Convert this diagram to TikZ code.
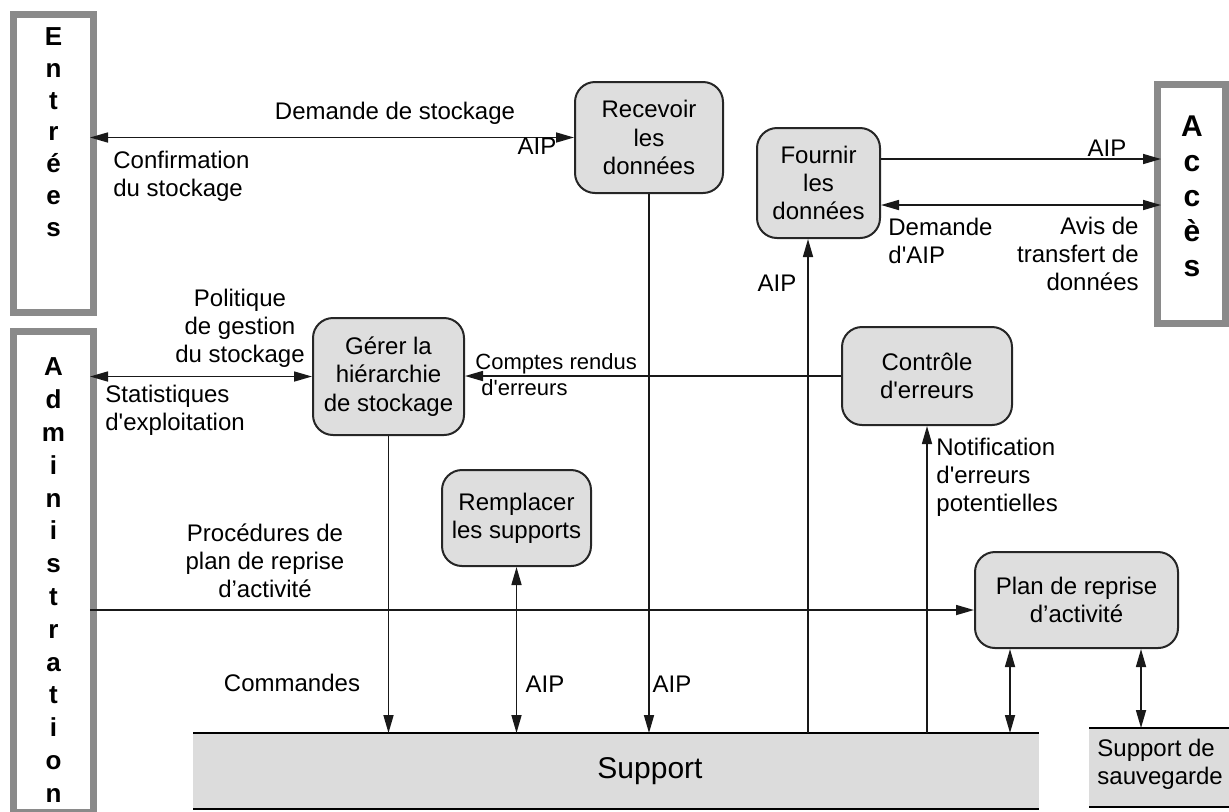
\documentclass[tikz,border=0pt]{standalone}
\usepackage{fontspec}
\setmainfont{Liberation Sans}
\usetikzlibrary{arrows.meta}
\definecolor{boxfill}{HTML}{DEDEDE}
\definecolor{supfill}{HTML}{DCDCDC}
\definecolor{framegray}{HTML}{8A8A8A}
\newcommand{\sq}{\textquotesingle}
\begin{document}
\begin{tikzpicture}[x=0.5pt,y=-0.5pt,
 proc/.style={draw=black!85, line width=1pt, rounded corners=10pt, fill=boxfill, align=center, inner sep=0pt, font=\fontsize{12}{14.2}\selectfont},
 frame/.style={draw=framegray, line width=3.5pt, inner sep=0pt, outer sep=-1.75pt},
 vtext/.style={align=center, inner sep=0pt, anchor=north},
 lbl/.style={align=center, inner sep=0pt, font=\fontsize{12}{14}\selectfont},
 store/.style={fill=supfill, inner sep=0pt, outer sep=0pt},
 conn/.style={line width=0.8pt, draw=black!90},
 arr/.style={conn, -{Triangle[length=9pt,width=5pt]}},
 dbl/.style={conn, {Triangle[length=9pt,width=5pt]}-{Triangle[length=9pt,width=5pt]}},
]
\useasboundingbox (0,0) rectangle (1229,811);
% external entities
\node[frame, minimum width=40pt, minimum height=149pt] (ent) at (53.5,163.5) {};
\node[frame, minimum width=40pt, minimum height=240.25pt] (adm) at (53.5,571.75) {};
\node[frame, minimum width=34pt, minimum height=119.5pt] (acc) at (1191.5,204) {};
\node[vtext, font=\bfseries\fontsize{13}{15.85}\selectfont] (entt) at (53.5,27.5) {E\\n\\t\\r\\é\\e\\s};
\node[vtext, font=\bfseries\fontsize{13}{16.4}\selectfont] (admt) at (53.5,357.5) {A\\d\\m\\i\\n\\i\\s\\t\\r\\a\\t\\i\\o\\n};
\node[vtext, font=\bfseries\fontsize{15}{17.5}\selectfont] (acct) at (1192,115.5) {A\\c\\c\\è\\s};
% processes
\node[proc, minimum width=74pt, minimum height=55.5pt] (rec) at (649,137.5) {Recevoir\\les\\données};
\node[proc, minimum width=61.5pt, minimum height=55pt] (fou) at (818.5,183) {Fournir\\les\\données};
\node[proc, minimum width=75.5pt, minimum height=58.5pt] (ger) at (388.5,376.5) {Gérer la\\hiérarchie\\de stockage};
\node[proc, minimum width=74.5pt, minimum height=48pt] (rem) at (516.5,518) {Remplacer\\les supports};
\node[proc, minimum width=85pt, minimum height=49pt] (ctl) at (927,376) {Contrôle\\d\sq erreurs};
\node[proc, minimum width=101.5pt, minimum height=48pt] (plan) at (1076.5,600) {Plan de reprise\\d’activité};
% stores
\node[store, minimum width=423pt, minimum height=38pt] (sup) at (616,771) {};
\draw[line width=1pt] (sup.north west) -- (sup.north east) (sup.south west) -- (sup.south east);
\node[lbl, font=\fontsize{15}{18}\selectfont] (supt) at (650,771) {Support};
\node[store, minimum width=70pt, minimum height=39.5pt] (sav) at (1159,767.5) {};
\draw[line width=1pt] (sav.north west) -- (sav.north east) (sav.south west) -- (sav.south east);
\node[lbl, align=left, anchor=west] (savt) at (1097,764) {Support de\\sauvegarde};
% connectors
\draw[dbl] (ent.east |- rec.west) -- (rec.west);
\draw[arr] (rec.south) -- (rec.south |- sup.north);
\draw[arr] (sup.north -| 808,0) -- (fou.south -| 808,0);
\draw[arr] (fou.east |- 0,159) -- (acc.west |- 0,159);
\draw[dbl] (fou.east |- 0,205) -- (acc.west |- 0,205);
\draw[dbl] (adm.east |- ger.west) -- (ger.west);
\draw[arr] (ctl.west) -- (ger.east |- ctl.west);
\draw[arr] (ger.south) -- (ger.south |- sup.north);
\draw[dbl] (rem.south) -- (rem.south |- sup.north);
\draw[arr] (ctl.south |- sup.north) -- (ctl.south);
\draw[arr] (adm.east |- 0,610) -- (plan.west |- 0,610);
\draw[dbl] (plan.south -| 1010,0) -- (sup.north -| 1010,0);
\draw[dbl] (plan.south -| 1141,0) -- (sav.north -| 1141,0);
% labels
\node[lbl] (l1) at (395,113) {Demande de stockage};
\node[lbl] (l2) at (537,146) {AIP};
\node[lbl, align=left, anchor=west] (l3) at (113,176) {Confirmation\\du stockage};
\node[lbl] (l4) at (1107,148) {AIP};
\node[lbl, align=left, anchor=west] (l5) at (888,241) {Demande\\d\sq AIP};
\node[lbl, align=right, anchor=east] (l6) at (1139,254) {Avis de\\transfert de\\données};
\node[lbl] (l7) at (777,283) {AIP};
\node[lbl] (l8) at (240,328) {Politique\\de gestion\\du stockage};
\node[lbl, align=left, anchor=west] (l9) at (105,410) {Statistiques\\d\sq exploitation};
\node[lbl, align=left, anchor=west, font=\fontsize{11}{13}\selectfont] (l10) at (475,375) {Comptes rendus\\\hspace*{3pt}d\sq erreurs};
\node[lbl, align=left, anchor=west] (l11) at (936,477) {Notification\\d\sq erreurs\\potentielles};
\node[lbl] (l12) at (265,561) {Procédures de\\plan de reprise\\d’activité};
\node[lbl] (l13) at (292,683) {Commandes};
\node[lbl] (l14) at (545,684) {AIP};
\node[lbl] (l15) at (672,684) {AIP};
\end{tikzpicture}
\end{document}
